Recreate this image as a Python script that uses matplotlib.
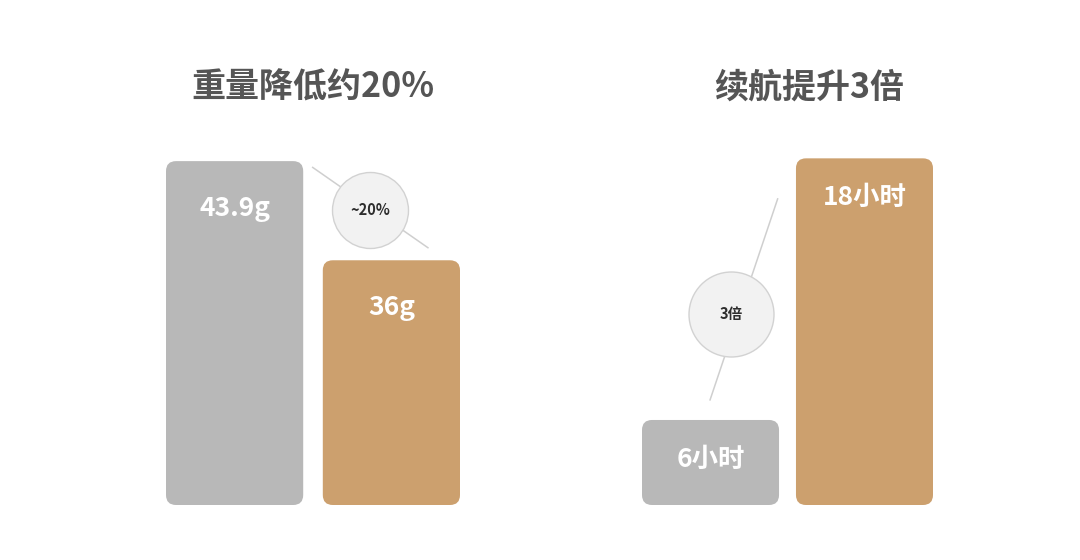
import matplotlib.pyplot as plt
from matplotlib.patches import FancyBboxPatch
import matplotlib
matplotlib.rcParams['font.family'] = ['Noto Sans CJK SC', 'DejaVu Sans']

# data
weight_titles = '重量降低约20%'
weight_values = [43.9, 36]
weight_labels = ['43.9g', '36g']
weight_badge = '~20%'

life_titles = '续航提升3倍'
life_values = [6, 18]
life_labels = ['6小时', '18小时']
life_badge = '3倍'

colors = ['#b8b8b8', '#cca06e']

W, H = 1080, 560
fig = plt.figure(figsize=(10.8, 5.6), dpi=100)
fig.patch.set_facecolor('white')


def panel(left_px, right_px, base, top, w, values, labels, title, title_x,
          badge, badge_xy, line_xy, badge_d, label_off):
    # axes spans pixel box [left_px, right_px] x [505 (bottom), 130 (top)]
    ax = fig.add_axes([left_px / W, (H - 505) / H,
                       (right_px - left_px) / W, (505 - 130) / H])
    ax.set_xlim(-w / 2, 1 + w / 2)
    ax.set_ylim(base, top)
    ax.axis('off')

    # px per data unit
    fig.canvas.draw()
    bb = ax.get_window_extent()
    px_x = bb.width / (1 + w)
    px_y = bb.height / (top - base)
    r = 10 / px_x

    for i, v in enumerate(values):
        p = FancyBboxPatch((i - w / 2, base), w, v - base,
                           boxstyle='round,pad=0,rounding_size=%f' % r,
                           mutation_aspect=px_x / px_y,
                           fc=colors[i], ec='none', clip_on=False, zorder=2)
        ax.add_patch(p)
        ax.annotate(labels[i], (i, v), xytext=(0, -label_off),
                    textcoords='offset pixels', ha='center', va='center',
                    color='white', fontsize=19, fontweight='bold', zorder=3)

    ax.plot(line_xy[0], line_xy[1], color='#cfcfcf', lw=1.1,
            clip_on=False, zorder=1)
    ax.plot([badge_xy[0]], [badge_xy[1]], 'o', ms=badge_d * 0.72,
            mfc='#f2f2f2', mec='#d2d2d2', mew=1.0, clip_on=False, zorder=4)
    ax.text(badge_xy[0], badge_xy[1], badge, ha='center', va='center',
            fontsize=10.5, fontweight='bold', color='#2e2e2e', zorder=5)

    ax.text(title_x, 1.115, title, transform=ax.transAxes, ha='center',
            va='center', fontsize=24.5, fontweight='bold', color='#555555')
    return ax


panel(166, 460, 16.5, 46.38, 0.875, weight_values, weight_labels,
      weight_titles, 0.5, weight_badge, (0.864, 40.0),
      ([0.498, 1.233], [43.4, 37.0]), 76, 47)

panel(642, 933, 2.1, 19.3, 0.89, life_values, life_labels,
      life_titles, 0.574, life_badge, (0.136, 10.84),
      ([0.436, -0.003], [16.14, 6.92]), 85, 39)

fig.savefig('out.png', dpi=100, facecolor='white')
